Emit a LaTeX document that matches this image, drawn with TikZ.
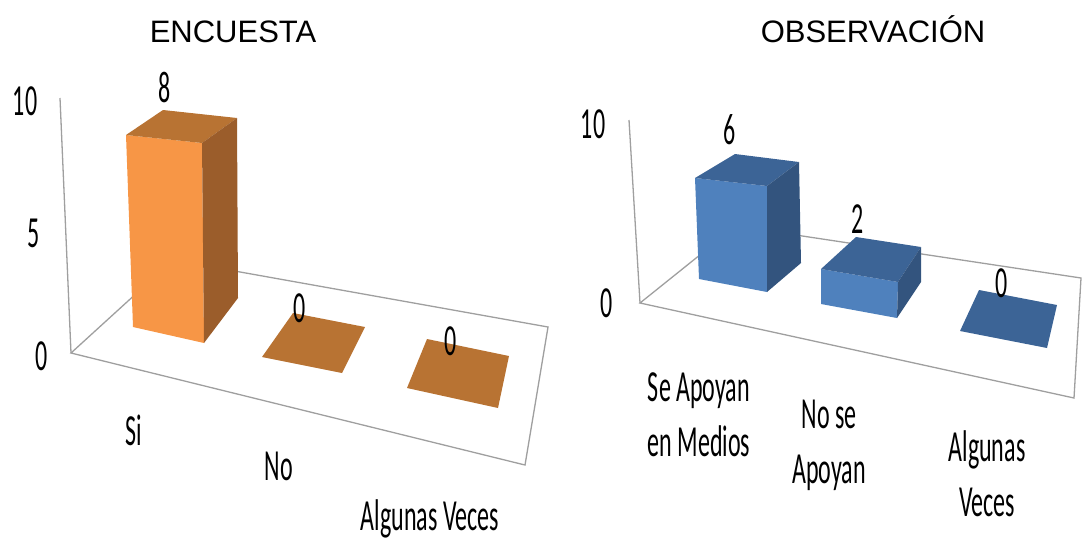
\documentclass[tikz,border=0pt]{standalone}
\usepackage{fontspec}
\setmainfont{Carlito}
\newfontfamily\titlefont{Liberation Sans}
\usepackage{graphicx}
\definecolor{orfront}{HTML}{F79646}
\definecolor{ortop}{HTML}{B87333}
\definecolor{orside}{HTML}{9B5D2B}
\definecolor{blfront}{HTML}{4F81BD}
\definecolor{bltop}{HTML}{3C6496}
\definecolor{blside}{HTML}{33547E}
\newcommand{\tall}[1]{\scalebox{1}[1.85]{#1}}

\begin{document}
\begin{tikzpicture}[
x=1pt, y=-1pt,
axis/.style={draw=gray!75, line width=1.3pt},
lbl/.style={inner sep=0pt, anchor=base, font=\fontsize{24}{30}\selectfont},
two/.style={inner sep=0pt, font=\fontsize{24}{30}\selectfont},
ttl/.style={inner sep=0pt, anchor=base, font=\titlefont\fontsize{31}{34}\selectfont},
]
\useasboundingbox (0,0) rectangle (1083,542);

% encuesta
\node[ttl] (enc) at (233,42) {ENCUESTA};
\draw[axis] (71,353) -- (173,260) -- (548,327) -- (525,465) -- cycle;
\draw[axis] (60,98) -- (71,353);
\fill[orfront] (126,135) -- (202,143) -- (204,343) -- (133,327) -- cycle;
\fill[ortop] (126,135) -- (163,110) -- (237,118) -- (202,143) -- cycle;
\fill[orside] (202,143) -- (237,118) -- (238,298) -- (204,343) -- cycle;
\fill[ortop] (262,357) -- (293,313) -- (365,327) -- (342,373) -- cycle;
\fill[ortop] (407,388) -- (427,339) -- (509,356) -- (498,408) -- cycle;
\node[lbl] (e10) at (25,115) {\tall{10}};
\node[lbl] (e5) at (34,247) {\tall{5}};
\node[lbl] (e0) at (42,370) {\tall{0}};
\node[lbl] (vsi) at (165,102) {\tall{8}};
\node[lbl] (vno) at (300,322) {\tall{0}};
\node[lbl] (vav) at (451,355) {\tall{0}};
\node[lbl] (csi) at (134,445) {\tall{Si}};
\node[lbl] (cno) at (279,480) {\tall{No}};
\node[lbl] (cav) at (430,530) {\tall{Algunas Veces}};

% observacion
\node[ttl] (obs) at (873,42) {OBSERVACIÓN};
\draw[axis] (640,303) -- (736,226) -- (1081,278) -- (1074,398) -- cycle;
\draw[axis] (629,120) -- (640,303);
\fill[blfront] (695,178) -- (767,186) -- (767,292) -- (699,279) -- cycle;
\fill[bltop] (695,178) -- (735,154) -- (799,162) -- (767,186) -- cycle;
\fill[blside] (767,186) -- (799,162) -- (801,263) -- (767,292) -- cycle;
\fill[blfront] (821,269) -- (898,282) -- (897,318) -- (821,304) -- cycle;
\fill[bltop] (821,269) -- (856,237) -- (921,247) -- (898,282) -- cycle;
\fill[blside] (898,282) -- (921,247) -- (921,282) -- (897,318) -- cycle;
\fill[bltop] (960,331) -- (979,290) -- (1057,305) -- (1047,348) -- cycle;
\node[lbl] (o10) at (593,138) {\tall{10}};
\node[lbl] (o0) at (607,317) {\tall{0}};
\node[lbl] (vsa) at (730,144) {\tall{6}};
\node[lbl] (vna) at (858,233) {\tall{2}};
\node[lbl] (vaw) at (1002,297) {\tall{0}};
\node[two] (csa) at (699,418) {\tall{\begin{tabular}{@{}c@{}}Se Apoyan\\en Medios\end{tabular}}};
\node[two] (cna) at (829,445) {\tall{\begin{tabular}{@{}c@{}}No se\\Apoyan\end{tabular}}};
\node[two] (caw) at (987,478) {\tall{\begin{tabular}{@{}c@{}}Algunas\\Veces\end{tabular}}};
\end{tikzpicture}
\end{document}
